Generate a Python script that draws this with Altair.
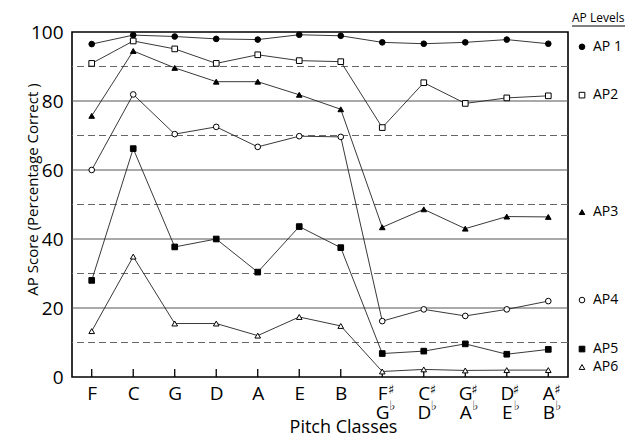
import altair as alt
import pandas as pd

categories = ["F", "C", "G", "D", "A", "E", "B", "F♯|G♭", "C♯|D♭", "G♯|A♭", "D♯|E♭", "A♯|B♭"]
series = ["AP 1", "AP2", "AP3", "AP4", "AP5", "AP6"]
ap1 = [96.5, 99.1, 98.7, 98.0, 97.8, 99.2, 98.9, 97.0, 96.6, 97.0, 97.8, 96.6]
ap2 = [90.9, 97.4, 95.1, 90.9, 93.4, 91.7, 91.4, 72.3, 85.3, 79.3, 80.9, 81.5]
ap3 = [75.7, 94.5, 89.6, 85.6, 85.6, 81.8, 77.6, 43.4, 48.6, 43.0, 46.5, 46.4]
ap4 = [60.0, 81.9, 70.4, 72.5, 66.7, 69.8, 69.6, 16.2, 19.6, 17.7, 19.6, 22.0]
ap5 = [28.0, 66.2, 37.7, 40.0, 30.4, 43.6, 37.5, 6.8, 7.5, 9.6, 6.6, 8.0]
ap6 = [13.3, 34.9, 15.5, 15.5, 12.0, 17.4, 14.8, 1.6, 2.2, 1.9, 2.0, 2.0]
legend_y = [95.7, 81.7, 47.8, 22.3, 8.1, 2.9]
solid_grid = [20, 40, 60, 80]
dashed_grid = [10, 30, 50, 70, 90]
y_ticks = [0, 20, 40, 60, 80, 100]
accidental_cats = categories[7:]

shapes = ["circle", "square", "triangle-up", "circle", "square", "triangle-up"]
fills = ["black", "white", "black", "white", "black", "white"]

rows = []
for s, vals in zip(series, [ap1, ap2, ap3, ap4, ap5, ap6]):
    for c, v in zip(categories, vals):
        rows.append({"series": s, "pc": c, "score": v})
df = pd.DataFrame(rows)
leg = pd.DataFrame({"series": series, "score": legend_y})
acc = pd.DataFrame({"pc": accidental_cats})

FONT = "Open Sans, DejaVu Sans"
SYM_FONT = "DejaVu Sans"
yscale = alt.Scale(domain=[0, 100], nice=False, zero=True)
xscale = alt.Scale(type="point", padding=0.475)
shape_scale = alt.Scale(domain=series, range=shapes)
fill_scale = alt.Scale(domain=series, range=fills)

x_axis = alt.Axis(
    title="Pitch Classes",
    labelExpr="split(replace(replace(datum.label, '♯', ''), '♭', ''), '|')",
    labelAngle=0, labelFontSize=19, labelLineHeight=19, labelPadding=7,
    labelFont=FONT, labelColor="black", ticks=False, domain=False, grid=False,
    titleFont=FONT, titleFontSize=18, titleFontWeight="normal", titleColor="black",
    titleX=271, titleY=50, titleBaseline="middle", titleAlign="center",
)
y_axis = alt.Axis(
    title="AP Score (Percentage Correct )", values=y_ticks, ticks=False,
    domain=False, grid=False, labelFont=FONT, labelFontSize=19,
    labelColor="black", labelPadding=9,
    titleFont=FONT, titleFontSize=15, titleFontWeight="normal", titleColor="black",
    titleX=-40, titleY=157, titleAngle=-90, titleBaseline="middle", titleAlign="center",
)


def X():
    return alt.X("pc:N", sort=categories, scale=xscale, axis=x_axis)


def Y():
    return alt.Y("score:Q", scale=yscale, axis=y_axis)


grid_s = alt.Chart(pd.DataFrame({"score": solid_grid})).mark_rule(
    color="#555", strokeWidth=1
).encode(y=Y())
grid_d = alt.Chart(pd.DataFrame({"score": dashed_grid})).mark_rule(
    color="#666", strokeWidth=1, strokeDash=[7, 4]
).encode(y=Y())

xticks = alt.Chart(pd.DataFrame({"pc": categories})).mark_rule(
    color="black", strokeWidth=1.3
).encode(x=X(), y=alt.value(345), y2=alt.value(337))

lines = alt.Chart(df).mark_line(color="#222", strokeWidth=0.9).encode(
    x=X(), y=Y(), detail="series:N"
)
points = alt.Chart(df).mark_point(
    filled=True, stroke="black", strokeWidth=1, opacity=1, size=32
).encode(
    x=X(), y=Y(),
    shape=alt.Shape("series:N", scale=shape_scale, legend=None),
    fill=alt.Fill("series:N", scale=fill_scale, legend=None),
)

sharps = alt.Chart(acc).mark_text(
    text="♯\ufe0e", font=SYM_FONT, fontSize=13, color="black", dx=9
).encode(x=X(), y=alt.value(358))
flats = alt.Chart(acc).mark_text(
    text="♭\ufe0e", font=SYM_FONT, fontSize=13, color="black", dx=10
).encode(x=X(), y=alt.value(374))

leg_pts = alt.Chart(leg).mark_point(
    filled=True, stroke="black", strokeWidth=1, opacity=1, size=32
).encode(
    x=alt.value(510), y=Y(),
    shape=alt.Shape("series:N", scale=shape_scale, legend=None),
    fill=alt.Fill("series:N", scale=fill_scale, legend=None),
)
leg_txt = alt.Chart(leg).mark_text(
    align="left", baseline="middle", font=FONT, fontSize=14, color="black"
).encode(x=alt.value(521), y=Y(), text="series:N")
leg_title = alt.Chart(pd.DataFrame({"t": ["AP Levels"]})).mark_text(
    align="left", baseline="middle", font=FONT, fontSize=12, color="black"
).encode(x=alt.value(500), y=alt.value(-14), text="t:N")
leg_line = alt.Chart(pd.DataFrame({"t": ["AP Levels"]})).mark_rule(
    color="black", strokeWidth=1
).encode(x=alt.value(500), x2=alt.value(553), y=alt.value(-6))

chart = alt.layer(
    grid_s, grid_d, xticks, lines, points, sharps, flats,
    leg_pts, leg_txt, leg_title, leg_line
).properties(
    width=496, height=345,
    padding={"left": 64, "top": 24, "right": 57, "bottom": 62},
    autosize=alt.AutoSizeParams(type="none"),
).configure_view(stroke="black", strokeWidth=1.6)

chart.save("out.html", embed_options={"renderer": "svg", "actions": False})
